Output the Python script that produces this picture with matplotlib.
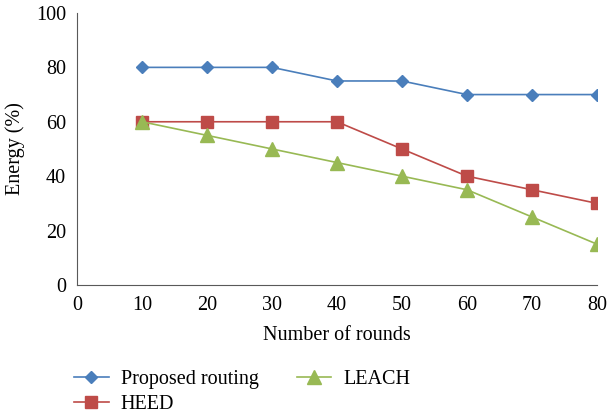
import matplotlib
matplotlib.use('Agg')
import matplotlib.pyplot as plt

# Data
rounds = [10, 20, 30, 40, 50, 60, 70, 80]
proposed = [80, 80, 80, 75, 75, 70, 70, 70]
heed = [60, 60, 60, 60, 50, 40, 35, 30]
leach = [60, 55, 50, 45, 40, 35, 25, 15]

plt.rcParams['font.family'] = ['Liberation Serif', 'DejaVu Serif']

fig = plt.figure(figsize=(6.11, 4.19), dpi=100)
ax = fig.add_axes([0.126, 0.320, 0.851, 0.649])

ax.plot(rounds, proposed, color='#4A7EBB', marker='D', markersize=6.5, linewidth=1.2, label='Proposed routing')
ax.plot(rounds, heed, color='#BE4B48', marker='s', markersize=8.5, linewidth=1.2, label='HEED')
ax.plot(rounds, leach, color='#98B954', marker='^', markersize=9.5, linewidth=1.2, label='LEACH')

ax.set_xlim(0, 80)
ax.set_ylim(0, 100)
ax.set_xticks(range(0, 81, 10))
ax.set_yticks(range(0, 101, 20))
ax.tick_params(length=0, labelsize=14.5, pad=8)
ax.spines['top'].set_visible(False)
ax.spines['right'].set_visible(False)
ax.spines['left'].set_color('#595959')
ax.spines['bottom'].set_color('#595959')

ax.set_xlabel('Number of rounds', fontsize=14.5, labelpad=8)
ax.set_ylabel('Energy (%)', fontsize=14.5, labelpad=8)

ax.legend(loc='upper left', bbox_to_anchor=(-0.04, -0.245), ncol=2, frameon=False,
          fontsize=14.5, handlelength=1.7, columnspacing=1.9, labelspacing=0.3, handletextpad=0.6)

fig.savefig('out.png', dpi=100)
